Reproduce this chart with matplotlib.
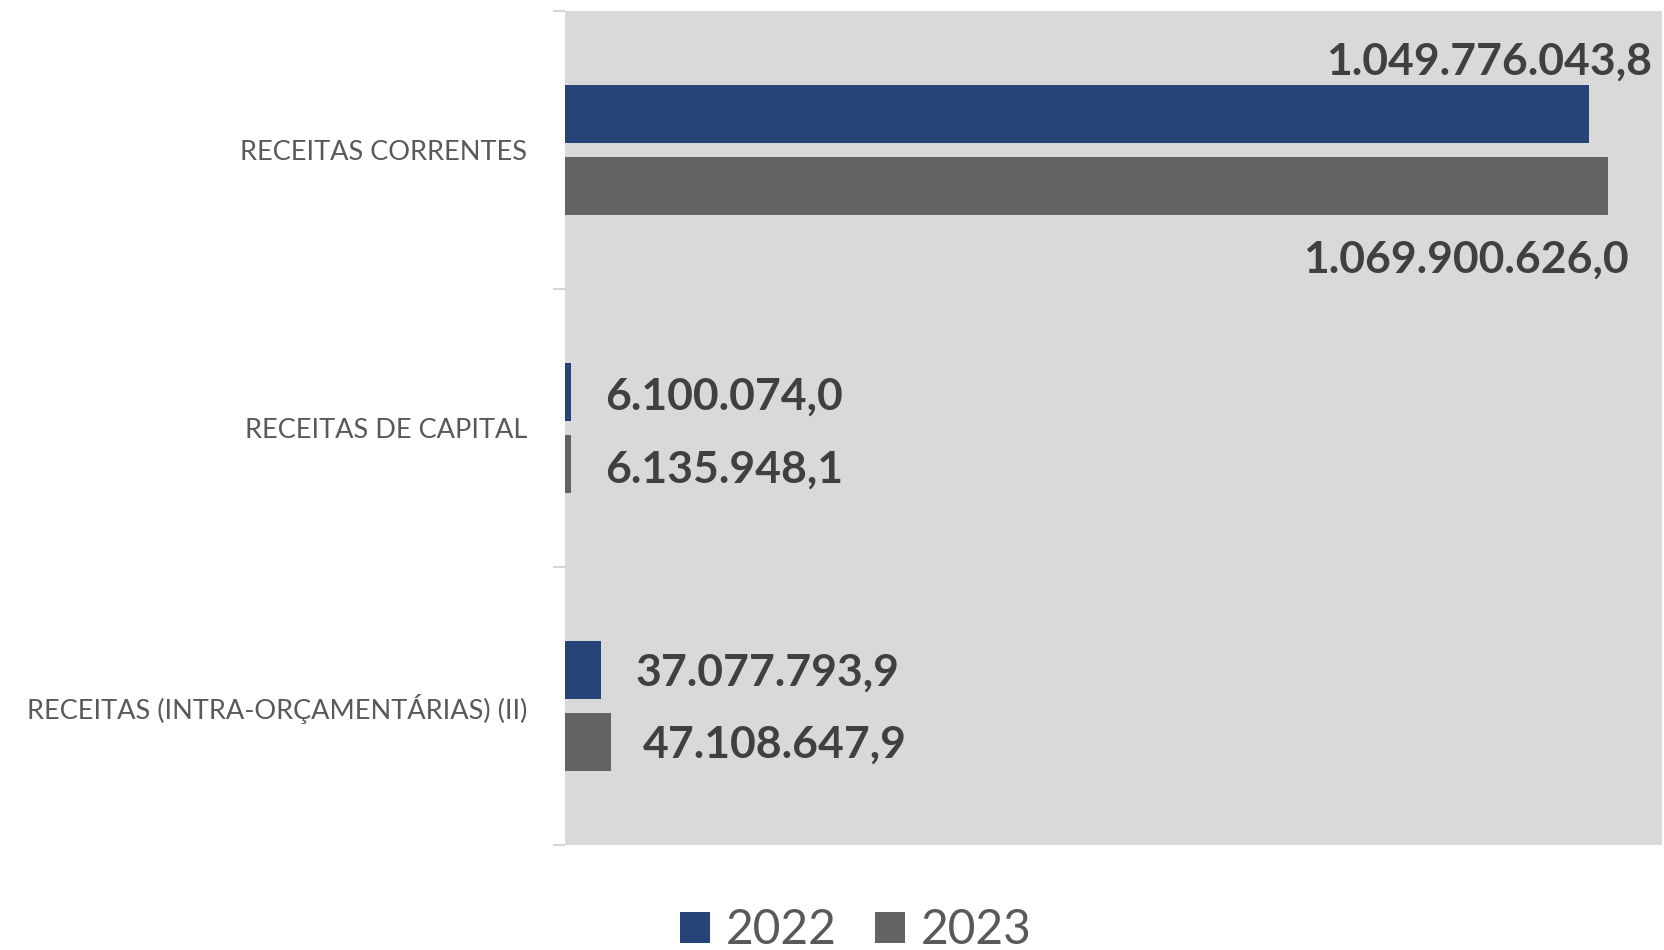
#!/usr/bin/env python

# matplotlib, numpy
import numpy as np
import matplotlib
matplotlib.use("Agg")
import matplotlib.pyplot as plt
from matplotlib.patches import Patch

# data
categories = ["RECEITAS CORRENTES",
              "RECEITAS DE CAPITAL",
              "RECEITAS (INTRA-ORÇAMENTÁRIAS) (II)"]
years = ["2022", "2023"]
values_2022 = [1049776043.8, 6100074.0, 37077793.9]
values_2023 = [1069900626.0, 6135948.1, 47108647.9]

# styles
colors = {"2022": "#264478", "2023": "#636363"}
bg_color = "#d9d9d9"
bar_h = 0.209
offset = 0.1295

# label placement in pixels (dx, dy, ha) per category, per year
label_pos_2022 = [(63, 52, "right"), (34, -5, "left"), (34, -3, "left")]
label_pos_2023 = [(20, -74, "right"), (34, -6, "left"), (32, -3, "left")]


def br_format(v):
    """format a number as 1.234.567,8"""
    s = f"{v:,.1f}"
    return s.replace(",", "X").replace(".", ",").replace("X", ".")


def main():
    plt.rcParams["font.family"] = ["Lato", "DejaVu Sans"]

    fig = plt.figure(figsize=(16.64, 9.5), dpi=100)
    ax = fig.add_axes([565 / 1664, 1 - 845 / 950, 1097 / 1664, 834 / 950])
    ax.set_facecolor(bg_color)

    y = np.arange(len(categories))
    ax.barh(y - offset, values_2022, height=bar_h, color=colors["2022"])
    ax.barh(y + offset, values_2023, height=bar_h, color=colors["2023"])

    # value labels
    for vals, yy, pos in [(values_2022, y - offset, label_pos_2022),
                          (values_2023, y + offset, label_pos_2023)]:
        for v, yc, (dx, dy, ha) in zip(vals, yy, pos):
            ax.annotate(br_format(v), xy=(v, yc), xytext=(dx, dy),
                        textcoords="offset pixels", ha=ha, va="center",
                        fontsize=32, fontweight="bold", color="#404040")

    ax.set_xlim(0, 1.125e9)
    ax.set_ylim(len(categories) - 0.5, -0.5)
    ax.set_xticks([])

    # category labels, tick marks only at boundaries
    ax.set_yticks(y)
    ax.set_yticklabels(categories, fontsize=19.5, color="#595959")
    ax.tick_params(axis="y", which="major", length=0, pad=27)
    ax.set_yticks(np.arange(-0.5, len(categories)), minor=True)
    ax.tick_params(axis="y", which="minor", length=9, width=1.2, color="#d0d0d0")

    for s in ax.spines.values():
        s.set_visible(False)

    handles = [Patch(facecolor=colors[yr], label=yr) for yr in years]
    fig.legend(handles=handles, loc="center", bbox_to_anchor=(856 / 1664, 1 - 930 / 950),
               ncol=2, frameon=False, fontsize=34.5, labelcolor="#595959",
               handlelength=0.62, handleheight=0.62, handletextpad=0.33,
               columnspacing=0.8)

    fig.savefig("out.png", dpi=100, facecolor="white")


if __name__ == "__main__":
    main()
